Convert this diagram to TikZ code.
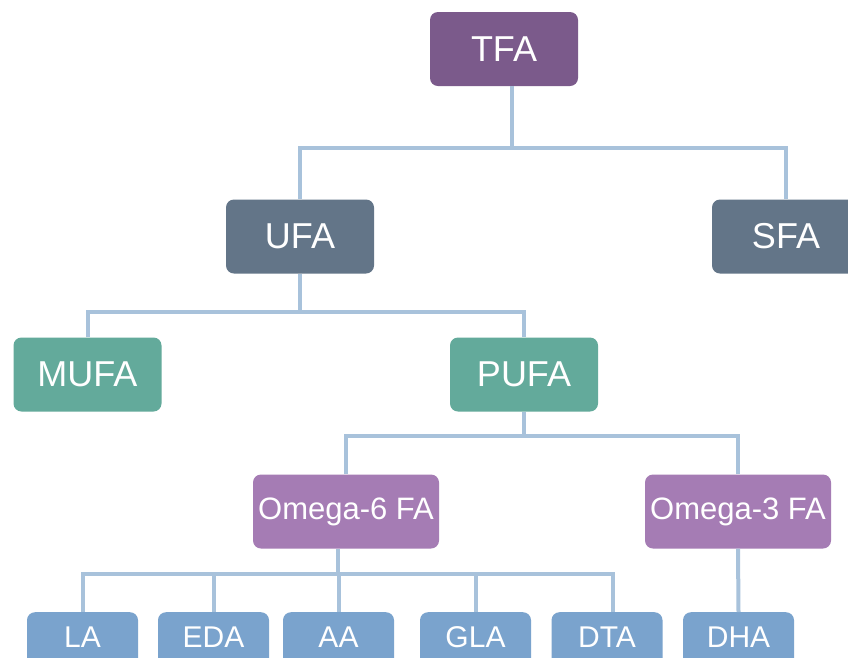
\documentclass[tikz,border=0pt]{standalone}
\usepackage{fontspec}
\setmainfont{Liberation Sans}
\definecolor{tfac}{RGB}{123,90,139}
\definecolor{ufac}{RGB}{99,117,136}
\definecolor{mufac}{RGB}{99,170,155}
\definecolor{omc}{RGB}{165,124,180}
\definecolor{leafc}{RGB}{122,163,205}
\definecolor{connc}{RGB}{168,194,219}
\begin{document}
\begin{tikzpicture}[x=1pt,y=-1pt,
  box/.style={rounded corners=8pt, text=white, inner sep=0pt, align=center},
  lvlA/.style={box, minimum width=148pt, minimum height=74pt, font=\fontsize{36}{36}\selectfont},
  omega/.style={box, fill=omc, minimum width=186pt, minimum height=74pt, font=\fontsize{31}{31}\selectfont},
  leaf/.style={box, fill=leafc, minimum width=111pt, text height=35pt, text depth=53pt, anchor=north, font=\fontsize{30}{30}\selectfont},
  conn/.style={draw=connc, line width=4pt}]
\useasboundingbox (0,0) rectangle (848,657);
\begin{scope}
\clip (0,0) rectangle (848,657);
\fill[white] (0,0) rectangle (848,657);
% nodes
\node[lvlA, fill=tfac] (TFA) at (504,49) {TFA};
\node[lvlA, fill=ufac] (UFA) at (300,236.5) {UFA};
\node[lvlA, fill=ufac] (SFA) at (786,236.5) {SFA};
\node[lvlA, fill=mufac] (MUFA) at (87.5,374.5) {MUFA};
\node[lvlA, fill=mufac] (PUFA) at (524,374.5) {PUFA};
\node[omega] (O6) at (346,511.5) {Omega-6 FA};
\node[omega] (O3) at (738,511.5) {Omega-3 FA};
\node[leaf] (LA) at (82.5,612) {LA};
\node[leaf] (EDA) at (213.5,612) {EDA};
\node[leaf] (AA) at (338.5,612) {AA};
\node[leaf] (GLA) at (475.5,612) {GLA};
\node[leaf] (DTA) at (607,612) {DTA};
\node[leaf] (DHA) at (738.5,612) {DHA};
% connectors
\coordinate (j0) at (512,148);
\draw[conn] (TFA.south -| j0) -- (j0);
\draw[conn] (UFA.north) |- (j0) -| (SFA.north);
\coordinate (j1) at (300,312);
\draw[conn] (UFA.south) -- (j1);
\draw[conn] (MUFA.north) |- (j1) -| (PUFA.north);
\coordinate (j2) at (524,436);
\draw[conn] (PUFA.south) -- (j2);
\draw[conn] (O6.north) |- (j2) -| (O3.north);
\coordinate (j3) at (338,574);
\coordinate (jd) at (613,574);
\draw[conn] (j3 |- O6.south) -- (j3);
\draw[conn] (LA.north) |- (jd) -- (jd |- DTA.north);
\draw[conn] (EDA.north) -- (EDA.north |- j3);
\draw[conn] (AA.north) -- (AA.north |- j3);
\draw[conn] (GLA.north) -- (GLA.north |- j3);
\draw[conn] (O3.south) -- (DHA.north);
\end{scope}
\end{tikzpicture}
\end{document}
